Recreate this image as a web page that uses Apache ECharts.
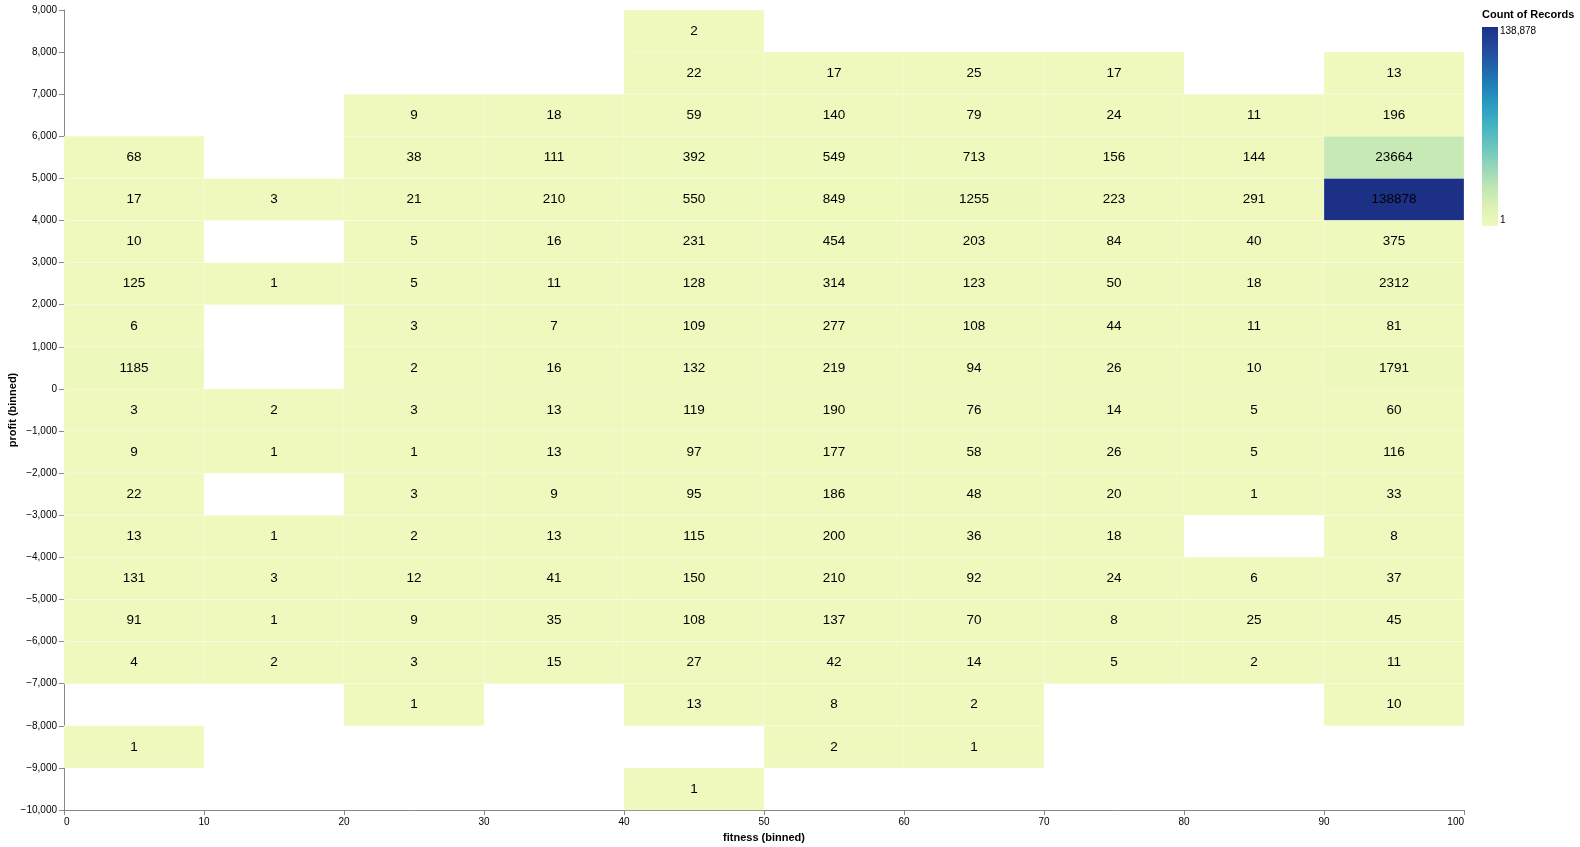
<!DOCTYPE html>
<html>
<head>
<meta charset="utf-8">
<script src="https://cdn.jsdelivr.net/npm/echarts@6/dist/echarts.min.js"></script>
<style>
html,body{margin:0;padding:0;background:#fff;}
#chart{width:1580px;height:847px;}
</style>
</head>
<body>
<div id="chart"></div>
<script>
// fitness bins (lower bounds), width 10
const fitnessBins = [0, 10, 20, 30, 40, 50, 60, 70, 80, 90];
// profit bins (lower bounds), height 1000, top to bottom
const profitBins = [8000, 7000, 6000, 5000, 4000, 3000, 2000, 1000, 0, -1000, -2000, -3000, -4000, -5000, -6000, -7000, -8000, -9000, -10000];
// counts per profit bin row, one entry per fitness bin (null = empty)
const row8000  = [null, null, null, null, 2,    null, null, null, null, null];
const row7000  = [null, null, null, null, 22,   17,   25,   17,   null, 13];
const row6000  = [null, null, 9,    18,   59,   140,  79,   24,   11,   196];
const row5000  = [68,   null, 38,   111,  392,  549,  713,  156,  144,  23664];
const row4000  = [17,   3,    21,   210,  550,  849,  1255, 223,  291,  138878];
const row3000  = [10,   null, 5,    16,   231,  454,  203,  84,   40,   375];
const row2000  = [125,  1,    5,    11,   128,  314,  123,  50,   18,   2312];
const row1000  = [6,    null, 3,    7,    109,  277,  108,  44,   11,   81];
const row0     = [1185, null, 2,    16,   132,  219,  94,   26,   10,   1791];
const rowM1000 = [3,    2,    3,    13,   119,  190,  76,   14,   5,    60];
const rowM2000 = [9,    1,    1,    13,   97,   177,  58,   26,   5,    116];
const rowM3000 = [22,   null, 3,    9,    95,   186,  48,   20,   1,    33];
const rowM4000 = [13,   1,    2,    13,   115,  200,  36,   18,   null, 8];
const rowM5000 = [131,  3,    12,   41,   150,  210,  92,   24,   6,    37];
const rowM6000 = [91,   1,    9,    35,   108,  137,  70,   8,    25,   45];
const rowM7000 = [4,    2,    3,    15,   27,   42,   14,   5,    2,    11];
const rowM8000 = [null, null, 1,    null, 13,   8,    2,    null, null, 10];
const rowM9000 = [1,    null, null, null, null, 2,    1,    null, null, null];
const rowM10000= [null, null, null, null, 1,    null, null, null, null, null];
const countRows = [row8000, row7000, row6000, row5000, row4000, row3000, row2000, row1000, row0,
  rowM1000, rowM2000, rowM3000, rowM4000, rowM5000, rowM6000, rowM7000, rowM8000, rowM9000, rowM10000];

const schemeColors = ['#eff9bd','#dbf1b4','#bde5b5','#94d5b9','#69c5be','#45b4c2','#2c9ec0','#2182b8','#2163aa','#23479c','#1c3185'];

const cells = [];
countRows.forEach((row, ri) => {
  row.forEach((v, ci) => {
    if (v !== null) cells.push([fitnessBins[ci], profitBins[ri], v]);
  });
});
let maxCount = 0, minCount = Infinity;
cells.forEach(c => { maxCount = Math.max(maxCount, c[2]); minCount = Math.min(minCount, c[2]); });

const FONT = '"Liberation Sans", Arial, Helvetica, sans-serif';
const fmt = v => (v < 0 ? '\u2212' : '') + Math.abs(v).toLocaleString('en-US');

const chart = echarts.init(document.getElementById('chart'), null, {renderer: 'canvas'});
chart.setOption({
  animation: false,
  backgroundColor: '#fff',
  grid: {left: 64, top: 10, width: 1400, height: 800, containLabel: false, outerBoundsMode: 'none'},
  xAxis: {
    type: 'value', min: 0, max: 100, interval: 10,
    name: 'fitness (binned)', nameLocation: 'middle', nameGap: 22, nameMoveOverlap: false,
    nameTextStyle: {fontFamily: FONT, fontSize: 11, fontWeight: 'bold', color: '#000'},
    axisLine: {show: true, onZero: false, lineStyle: {color: '#888', width: 1}},
    axisTick: {show: true, length: 5, lineStyle: {color: '#888'}},
    axisLabel: {fontFamily: FONT, fontSize: 10, color: '#000', margin: 7, alignMinLabel: 'left', alignMaxLabel: 'right', formatter: fmt},
    splitLine: {show: false}
  },
  yAxis: {
    type: 'value', min: -10000, max: 9000, interval: 1000,
    name: 'profit (binned)', nameLocation: 'middle', nameGap: 46, nameRotate: 90, nameMoveOverlap: false,
    nameTextStyle: {fontFamily: FONT, fontSize: 11, fontWeight: 'bold', color: '#000'},
    axisLine: {show: true, onZero: false, lineStyle: {color: '#888', width: 1}},
    axisTick: {show: true, length: 5, lineStyle: {color: '#888'}},
    axisLabel: {fontFamily: FONT, fontSize: 10, color: '#000', margin: 7, formatter: fmt},
    splitLine: {show: false}
  },
  visualMap: {
    show: false, type: 'continuous', dimension: 2, min: minCount, max: maxCount,
    seriesIndex: 0, inRange: {color: schemeColors}
  },
  series: [{
    type: 'custom',
    data: cells,
    encode: {x: 0, y: 1},
    renderItem: function (params, api) {
      const x0 = api.value(0), y0 = api.value(1);
      const p1 = api.coord([x0, y0 + 1000]);
      const p2 = api.coord([x0 + 10, y0]);
      return {
        type: 'group',
        children: [{
          type: 'rect',
          shape: {x: p1[0], y: p1[1], width: p2[0] - p1[0], height: p2[1] - p1[1]},
          style: {fill: api.visual('color'), stroke: 'rgba(255,255,255,0.5)', lineWidth: 0.5}
        }, {
          type: 'text',
          style: {
            text: String(api.value(2)),
            x: (p1[0] + p2[0]) / 2, y: (p1[1] + p2[1]) / 2,
            align: 'center', verticalAlign: 'middle',
            fill: '#000', font: '13.5px ' + FONT
          }
        }]
      };
    }
  }],
  graphic: [
    {type: 'text', left: 1482, top: 9, style: {text: 'Count of Records', font: 'bold 11px ' + FONT, fill: '#000'}},
    {type: 'rect', shape: {x: 1482, y: 27, width: 16, height: 199},
     style: {fill: new echarts.graphic.LinearGradient(0, 0, 0, 1,
        schemeColors.slice().reverse().map((c, i) => ({offset: i / (schemeColors.length - 1), color: c})))}},
    {type: 'text', left: 1500, top: 26, style: {text: maxCount.toLocaleString('en-US'), font: '10px ' + FONT, fill: '#000'}},
    {type: 'text', left: 1500, top: 215, style: {text: String(minCount), font: '10px ' + FONT, fill: '#000'}}
  ]
});
</script>
</body>
</html>
